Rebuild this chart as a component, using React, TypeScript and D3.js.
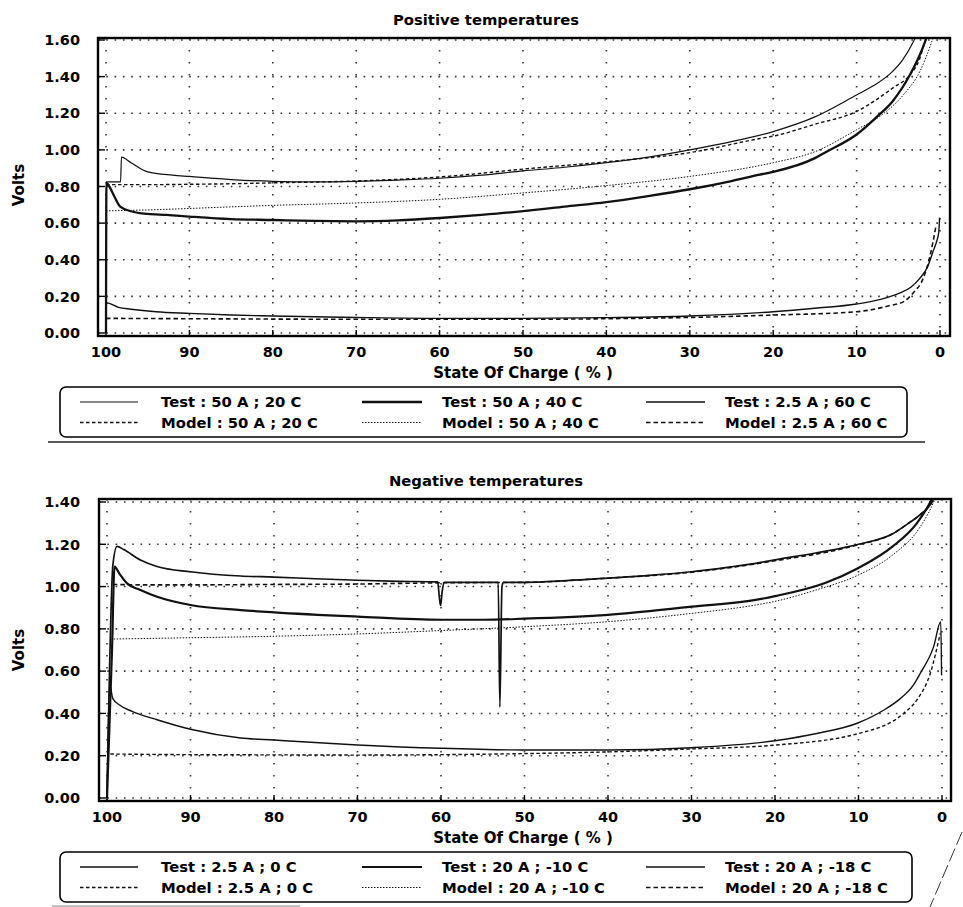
import React, { useEffect, useRef } from 'react';
import * as d3 from 'd3';

type Pt = [number, number];

// shared axis values
const socTicks = [100, 90, 80, 70, 60, 50, 40, 30, 20, 10, 0];
const posVoltTicks = [0, 0.2, 0.4, 0.6, 0.8, 1.0, 1.2, 1.4, 1.6];
const negVoltTicks = [0, 0.2, 0.4, 0.6, 0.8, 1.0, 1.2, 1.4];

// Positive temperatures : [state of charge %, volts]
const test50A20C: Pt[] = [
  [100, 0.825], [98.25, 0.825], [98.15, 0.96], [97, 0.93], [95, 0.88], [92, 0.862], [90, 0.855],
  [85, 0.838], [80, 0.828], [75, 0.825], [70, 0.828], [65, 0.835], [60, 0.845], [55, 0.862],
  [50, 0.885], [45, 0.905], [40, 0.93], [35, 0.96], [30, 1.0], [25, 1.045], [20, 1.1], [15, 1.18],
  [10, 1.3], [8, 1.35], [6, 1.415], [4.5, 1.49], [3.2, 1.59], [2.5, 1.66]
];
const model50A20C: Pt[] = [
  [100, 0.81], [95, 0.81], [90, 0.812], [85, 0.815], [80, 0.82], [70, 0.83], [60, 0.852],
  [50, 0.895], [40, 0.935], [30, 0.985], [21.6, 1.062], [20, 1.075], [15, 1.14], [10, 1.21],
  [5.6, 1.34], [3.6, 1.41], [2.5, 1.49], [1.8, 1.59], [1.2, 1.66]
];
const test50A40C: Pt[] = [
  [100, 0.0], [99.95, 0.82], [99.6, 0.8], [99, 0.745], [98.3, 0.69], [97, 0.665], [95, 0.65],
  [92.7, 0.645], [90, 0.636], [85, 0.622], [80, 0.617], [75, 0.612], [70, 0.61], [65, 0.615],
  [60, 0.628], [55, 0.645], [50, 0.665], [45, 0.69], [40, 0.715], [35, 0.748], [30, 0.785],
  [25, 0.83], [21.6, 0.865], [20, 0.88], [15, 0.955], [13.6, 0.99], [10, 1.084], [7.7, 1.175],
  [5.6, 1.27], [3.6, 1.41], [2.6, 1.5], [1.8, 1.59], [1.3, 1.66]
];
const model50A40C: Pt[] = [
  [100, 0.667], [95, 0.672], [90, 0.68], [84.3, 0.69], [80, 0.697], [70, 0.71], [60, 0.73],
  [50, 0.765], [40, 0.805], [30, 0.855], [20, 0.93], [15, 0.99], [10, 1.11], [7, 1.19],
  [4.4, 1.3], [2.4, 1.43], [1.0, 1.59], [0.5, 1.66]
];
const test2p5A60C: Pt[] = [
  [100, 0.0], [99.95, 0.165], [98.5, 0.14], [97, 0.13], [94, 0.116], [90, 0.107], [85, 0.098],
  [80, 0.093], [70, 0.085], [60, 0.08], [50, 0.08], [40, 0.084], [30, 0.093], [20, 0.116],
  [15, 0.135], [10, 0.158], [7, 0.185], [5, 0.215], [3.5, 0.25], [2.4, 0.3], [1.5, 0.36],
  [0.8, 0.45], [0.4, 0.5], [0.15, 0.55], [0.05, 0.63]
];
const model2p5A60C: Pt[] = [
  [100, 0.08], [90, 0.078], [80, 0.076], [70, 0.075], [60, 0.075], [50, 0.075], [40, 0.078],
  [30, 0.085], [20, 0.098], [10, 0.116], [6, 0.15], [4.4, 0.17], [3.2, 0.22], [2, 0.3],
  [1.2, 0.42], [0.5, 0.58]
];

// Negative temperatures
const test2p5A0C: Pt[] = [
  [100, 0.0], [99.7, 0.54], [99.3, 0.47], [98.5, 0.44], [97, 0.41], [94, 0.37], [90, 0.325],
  [84, 0.284], [80, 0.274], [70, 0.251], [60, 0.235], [50, 0.227], [40, 0.227], [30, 0.238],
  [20, 0.271], [15, 0.305], [10, 0.356], [7, 0.415], [5, 0.47], [3.5, 0.53], [2.6, 0.59],
  [1.0, 0.716], [0.15, 0.834], [0.05, 0.58]
];
const model2p5A0C: Pt[] = [
  [99.6, 0.208], [90, 0.205], [80, 0.204], [70, 0.203], [60, 0.205], [50, 0.21], [40, 0.218],
  [30, 0.232], [20, 0.25], [10, 0.305], [4.6, 0.4], [3, 0.464], [1.4, 0.59], [0.2, 0.78]
];
const test20Am10C: Pt[] = [
  [100, 0.0], [99.4, 0.7], [99.1, 1.094], [98.5, 1.06], [97.6, 1.015], [96, 0.984], [94, 0.952],
  [90, 0.913], [84, 0.889], [80, 0.878], [70, 0.858], [60, 0.843], [55, 0.843], [50, 0.848],
  [40, 0.866], [30, 0.905], [22.3, 0.937], [20, 0.955], [14, 1.017], [10, 1.088], [5.9, 1.19],
  [3, 1.3], [1.4, 1.4], [0.8, 1.45]
];
const model20Am10C: Pt[] = [
  [99.2, 0.752], [90, 0.758], [80, 0.765], [70, 0.776], [60, 0.792], [50, 0.81], [40, 0.834],
  [30, 0.873], [22.3, 0.913], [20, 0.93], [15, 0.985], [10, 1.055], [5.9, 1.15], [2.6, 1.283],
  [1.0, 1.4], [0.5, 1.45]
];
const test20Am18C: Pt[] = [
  [100, 0.0], [99.7, 0.6], [99.3, 1.1], [98.8, 1.19], [98, 1.175], [96, 1.126], [94, 1.095],
  [90, 1.07], [84, 1.05], [80, 1.045], [75, 1.037], [70, 1.03], [65, 1.025], [60.4, 1.022],
  [60.2, 0.95], [60.05, 0.91], [59.85, 0.98], [59.6, 1.02], [55, 1.02], [53.15, 1.02],
  [52.95, 0.43], [52.7, 1.0], [52.5, 1.02], [50, 1.02], [45, 1.028], [40, 1.04], [35, 1.053],
  [30, 1.07], [25, 1.095], [22.3, 1.11], [20, 1.126], [15, 1.16], [10, 1.2], [5.9, 1.25],
  [4, 1.3], [2.6, 1.34], [1.2, 1.4], [0.6, 1.45]
];
const model20Am18C: Pt[] = [
  [99.3, 1.01], [95, 1.008], [90, 1.008], [80, 1.01], [70, 1.012], [65, 1.015], [60, 1.018],
  [50, 1.02], [40, 1.04], [30, 1.068], [20, 1.122], [10, 1.198], [5.9, 1.25], [4, 1.3],
  [2.6, 1.34], [1.2, 1.4], [0.6, 1.45]
];

type Series = { label: string; data: Pt[]; width: number; dash?: string };

const posSeries: Series[] = [
  { label: 'Test : 50 A ; 20 C', data: test50A20C, width: 1.2 },
  { label: 'Model : 50 A ; 20 C', data: model50A20C, width: 1.4, dash: '3.5 2.5' },
  { label: 'Test : 50 A ; 40 C', data: test50A40C, width: 2.3 },
  { label: 'Model : 50 A ; 40 C', data: model50A40C, width: 1, dash: '1.5 1.5' },
  { label: 'Test : 2.5 A ; 60 C', data: test2p5A60C, width: 1.4 },
  { label: 'Model : 2.5 A ; 60 C', data: model2p5A60C, width: 1.6, dash: '4.5 3' }
];
const negSeries: Series[] = [
  { label: 'Test : 2.5 A ; 0 C', data: test2p5A0C, width: 1.4 },
  { label: 'Model : 2.5 A ; 0 C', data: model2p5A0C, width: 1.4, dash: '3.5 2.5' },
  { label: 'Test : 20  A ; -10 C', data: test20Am10C, width: 2.2 },
  { label: 'Model : 20 A ; -10 C', data: model20Am10C, width: 1, dash: '1.5 1.5' },
  { label: 'Test : 20 A ; -18 C', data: test20Am18C, width: 1.7 },
  { label: 'Model : 20 A ; -18 C', data: model20Am18C, width: 1.6, dash: '4.5 3' }
];

const FONT = '"DejaVu Sans", sans-serif';

type Panel = {
  id: string;
  title: string;
  series: Series[];
  yMax: number;
  yTicks: number[];
  frame: { x0: number; x1: number; y0: number; y1: number };
  xRange: [number, number];
  yRange: [number, number];
  titleY: number;
  tickLabelY: number;
  axisTitleY: number;
  voltsY: number;
  legend: { x: number; y: number; w: number; h: number };
};

const panels: Panel[] = [
  {
    id: 'pos', title: 'Positive temperatures', series: posSeries, yMax: 1.6, yTicks: posVoltTicks,
    frame: { x0: 98, x1: 950, y0: 38, y1: 336 }, xRange: [106, 940], yRange: [333, 40],
    titleY: 20, tickLabelY: 352, axisTitleY: 373, voltsY: 185,
    legend: { x: 60, y: 387, w: 847, h: 50 }
  },
  {
    id: 'neg', title: 'Negative temperatures', series: negSeries, yMax: 1.4, yTicks: negVoltTicks,
    frame: { x0: 99, x1: 951, y0: 499, y1: 801 }, xRange: [107, 942], yRange: [798, 502],
    titleY: 481, tickLabelY: 817, axisTitleY: 838, voltsY: 650,
    legend: { x: 60, y: 852, w: 852, h: 50 }
  }
];

const legendCols = [
  { lx0: 80, lx1: 138, tx: 161 },
  { lx0: 362, lx1: 422, tx: 442 },
  { lx0: 646, lx1: 705, tx: 725 }
];

function drawPanel(svg: d3.Selection<SVGSVGElement, unknown, null, undefined>, p: Panel) {
  const x = d3.scaleLinear().domain([100, 0]).range(p.xRange);
  const y = d3.scaleLinear().domain([0, p.yMax]).range(p.yRange);
  const f = p.frame;
  const g = svg.append('g');

  g.append('clipPath').attr('id', `clip-${p.id}`)
    .append('rect').attr('x', f.x0).attr('y', f.y0).attr('width', f.x1 - f.x0).attr('height', f.y1 - f.y0);

  // dotted grid
  g.selectAll('.hgrid').data(p.yTicks).join('line')
    .attr('x1', f.x0).attr('x2', f.x1)
    .attr('y1', d => y(d)).attr('y2', d => y(d))
    .attr('stroke', '#333').attr('stroke-width', 1.6).attr('stroke-dasharray', '1.6 6.7');
  g.selectAll('.vgrid').data(socTicks).join('line')
    .attr('x1', d => x(d)).attr('x2', d => x(d))
    .attr('y1', f.y0).attr('y2', f.y1)
    .attr('stroke', '#333').attr('stroke-width', 1.6).attr('stroke-dasharray', '1.6 10.4');

  // curves
  const line = d3.line<Pt>().x(d => x(d[0])).y(d => y(d[1])).curve(d3.curveMonotoneX);
  p.series.forEach(s => {
    g.append('path')
      .attr('d', line(s.data))
      .attr('fill', 'none')
      .attr('stroke', '#111')
      .attr('stroke-width', s.width)
      .attr('stroke-dasharray', s.dash ?? null)
      .attr('stroke-linejoin', 'round')
      .attr('clip-path', `url(#clip-${p.id})`);
  });

  // frame
  g.append('rect')
    .attr('x', f.x0).attr('y', f.y0).attr('width', f.x1 - f.x0).attr('height', f.y1 - f.y0)
    .attr('fill', 'none').attr('stroke', '#000').attr('stroke-width', 2.4);

  // inward ticks
  g.selectAll('.ytick').data(p.yTicks).join('line')
    .attr('x1', f.x0).attr('x2', f.x0 + 7)
    .attr('y1', d => y(d)).attr('y2', d => y(d))
    .attr('stroke', '#000').attr('stroke-width', 1.4);
  g.selectAll('.xtick').data(socTicks).join('line')
    .attr('x1', d => x(d)).attr('x2', d => x(d))
    .attr('y1', f.y1).attr('y2', f.y1 - 6)
    .attr('stroke', '#000').attr('stroke-width', 1.4);

  // labels
  const text = (sel: d3.Selection<any, any, any, any>, size: number) =>
    sel.attr('font-family', FONT).attr('font-weight', 'bold').attr('font-size', size).attr('fill', '#000');

  text(g.selectAll('.ylab').data(p.yTicks).join('text'), 14.5)
    .attr('x', 80).attr('y', d => y(d)).attr('dy', '0.36em').attr('text-anchor', 'end')
    .text(d => d3.format('.2f')(d));
  text(g.selectAll('.xlab').data(socTicks).join('text'), 14.5)
    .attr('x', d => x(d)).attr('y', p.tickLabelY).attr('dy', '0.36em').attr('text-anchor', 'middle')
    .text(d => String(d));
  text(g.append('text'), 14.8)
    .attr('x', 486).attr('y', p.titleY).attr('dy', '0.36em').attr('text-anchor', 'middle')
    .text(p.title);
  text(g.append('text'), 15)
    .attr('x', 523).attr('y', p.axisTitleY).attr('dy', '0.36em').attr('text-anchor', 'middle')
    .text('State Of Charge ( % )');
  text(g.append('text'), 15)
    .attr('transform', `translate(19,${p.voltsY}) rotate(-90)`).attr('dy', '0.36em').attr('text-anchor', 'middle')
    .text('Volts');

  // legend
  const L = p.legend;
  g.append('rect')
    .attr('x', L.x).attr('y', L.y).attr('width', L.w).attr('height', L.h).attr('rx', 6)
    .attr('fill', 'none').attr('stroke', '#000').attr('stroke-width', 1.6);
  p.series.forEach((s, i) => {
    const col = legendCols[Math.floor(i / 2)];
    const ry = L.y + (i % 2 === 0 ? 15 : 35.5);
    g.append('line')
      .attr('x1', col.lx0).attr('x2', col.lx1).attr('y1', ry).attr('y2', ry)
      .attr('stroke', '#111').attr('stroke-width', s.width).attr('stroke-dasharray', s.dash ?? null);
    text(g.append('text'), 14.8)
      .attr('x', col.tx).attr('y', ry).attr('dy', '0.36em')
      .text(s.label);
  });
}

const App = () => {
  const svgRef = useRef<SVGSVGElement>(null);

  useEffect(() => {
    const svg = d3.select(svgRef.current!);
    svg.selectAll('*').remove();
    svg.append('rect').attr('width', 963).attr('height', 907).attr('fill', '#fff');

    panels.forEach(p => drawPanel(svg, p));

    // rules from the scanned page
    svg.append('line').attr('x1', 48).attr('x2', 925).attr('y1', 442).attr('y2', 442)
      .attr('stroke', '#222').attr('stroke-width', 1.4);
    svg.append('line').attr('x1', 52).attr('x2', 300).attr('y1', 906).attr('y2', 906)
      .attr('stroke', '#888').attr('stroke-width', 1);
    svg.append('line').attr('x1', 962).attr('x2', 930).attr('y1', 832).attr('y2', 907)
      .attr('stroke', '#333').attr('stroke-width', 1).attr('stroke-dasharray', '14 4');
  }, []);

  return (
    <svg ref={svgRef} width={963} height={907} style={{ position: 'absolute', left: 0, top: 0 }} />
  );
};

export default App;
